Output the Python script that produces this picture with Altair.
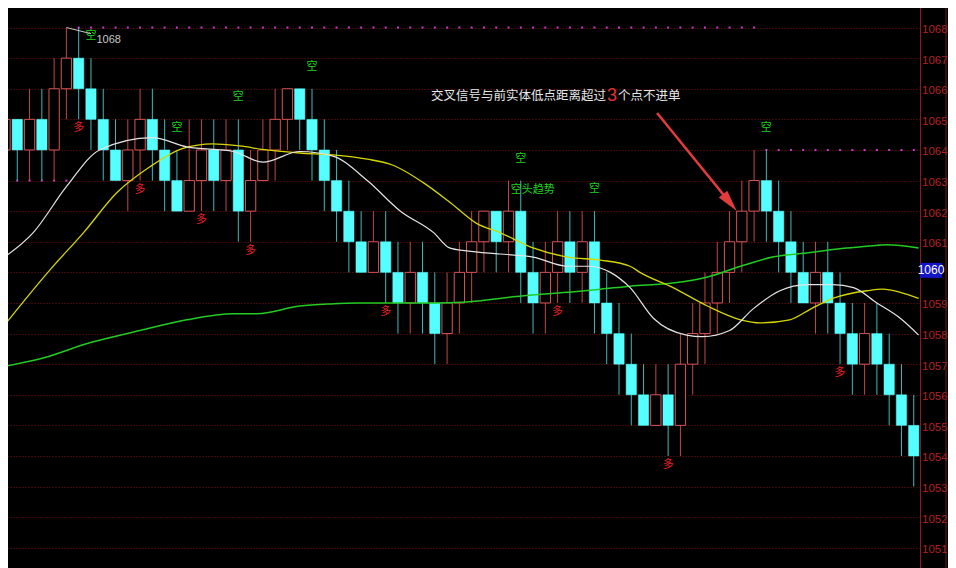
import altair as alt
import pandas as pd

# ---------------- data ----------------
opens  = [1064,1065,1064,1065,1064,1066,1067,1066,1065,1064,1063,1064,1065,1064,1063,1062,1063,1064,1063,1064,
          1062,1063,1064,1065,1066,1065,1064,1063,1062,1061,1060,1061,1060,1059,1060,1059,1058,1059,1060,1061,
          1062,1061,1062,1060,1059,1060,1061,1060,1061,1059,1058,1057,1056,1055,1056,1055,1057,1058,1059,1060,
          1061,1062,1063,1062,1061,1060,1059,1060,1059,1058,1057,1058,1057,1056,1055]
closes = [1065,1064,1065,1064,1066,1067,1066,1065,1064,1063,1064,1065,1064,1063,1062,1063,1064,1063,1064,1062,
          1063,1064,1065,1066,1065,1064,1063,1062,1061,1060,1061,1060,1059,1060,1059,1058,1059,1060,1061,1062,
          1061,1062,1060,1059,1060,1061,1060,1061,1059,1058,1057,1056,1055,1056,1055,1057,1058,1059,1060,1061,
          1062,1063,1062,1061,1060,1059,1060,1059,1058,1057,1058,1057,1056,1055,1054]
highs  = [1065,1065,1066,1066,1067,1068,1068,1067,1066,1065,1065,1066,1066,1065,1064,1065,1065,1065,1065,1065,
          1064,1065,1066,1066,1066,1066,1065,1064,1063,1062,1062,1062,1061,1061,1061,1060,1060,1061,1062,1062,
          1062,1063,1063,1061,1061,1062,1062,1062,1062,1060,1059,1058,1057,1057,1057,1058,1059,1060,1061,1062,
          1063,1064,1064,1063,1062,1061,1061,1061,1060,1059,1059,1059,1058,1057,1056]
lows   = [1063,1063,1063,1063,1063,1065,1065,1064,1063,1063,1062,1063,1063,1062,1062,1062,1062,1062,1062,1061,
          1061,1063,1063,1064,1064,1063,1062,1061,1060,1060,1060,1059,1058,1058,1058,1057,1057,1058,1059,1060,
          1060,1060,1059,1058,1058,1059,1059,1059,1058,1057,1056,1055,1055,1055,1054,1054,1056,1057,1058,1059,
          1060,1061,1061,1060,1059,1059,1058,1058,1057,1056,1056,1056,1055,1054,1053]
stop_levels = [1063]*6 + [1068]*56 + [1064]*13

white_i = [-0.4, 2.3, 5.0, 7.7, 12.0, 14.8, 18.6, 21.0, 24.0, 26.7, 29.5, 32.2, 34.9, 36.2, 37.6, 40.3, 43.0,
           45.8, 47.6, 49.3, 50.9, 52.8, 55.5, 56.8, 59.0, 60.9, 63.1, 65.3, 67.4, 69.1, 71.0, 72.9, 74.4]
white_v = [1060.4, 1061.3, 1062.8, 1064.0, 1064.4, 1064.1, 1063.95, 1063.6, 1063.95, 1063.8, 1063.0, 1062.0,
           1061.3, 1060.8, 1060.7, 1060.6, 1060.5, 1060.2, 1060.2, 1060.0, 1059.5, 1058.5, 1057.95, 1057.9,
           1058.1, 1058.8, 1059.4, 1059.6, 1059.6, 1059.5, 1059.0, 1058.5, 1057.95]
yel_i = [-0.4, 3.7, 6.4, 9.1, 11.8, 14.5, 16.9, 19.1, 21.3, 24.0, 26.7, 29.5, 31.6, 34.0, 36.2, 38.4, 40.3,
         43.0, 45.8, 48.5, 50.9, 51.7, 54.4, 57.2, 59.9, 61.5, 63.9, 65.6, 67.4, 70.2, 71.5, 72.9, 74.4]
yel_v = [1058.1, 1060.1, 1061.3, 1062.6, 1063.45, 1064.05, 1064.2, 1064.13, 1064.0, 1063.9, 1063.84, 1063.7,
         1063.5, 1062.95, 1062.3, 1061.6, 1061.3, 1060.8, 1060.5, 1060.4, 1060.2, 1060.0, 1059.5, 1058.9,
         1058.45, 1058.35, 1058.45, 1058.8, 1059.15, 1059.4, 1059.45, 1059.35, 1059.15]
grn_i = [-0.4, 3.1, 6.9, 11.0, 14.8, 18.6, 20.5, 24.0, 26.5, 28.7, 34.9, 37.6, 41.4, 45.8, 48.5, 50.9, 54.4,
         57.2, 59.9, 62.5, 65.6, 67.4, 70.2, 71.8, 74.4]
grn_v = [1056.9, 1057.2, 1057.7, 1058.1, 1058.45, 1058.65, 1058.65, 1058.9, 1058.97, 1059.0, 1059.0, 1059.03,
         1059.2, 1059.35, 1059.45, 1059.55, 1059.65, 1059.85, 1060.2, 1060.5, 1060.65, 1060.75, 1060.85,
         1060.9, 1060.8]

duo_idx = [6, 11, 16, 20, 31, 45, 54, 68]      # 多 signals (below low)
kong_idx = [7, 14, 19, 25, 42, 48, 62]         # 空 signals (above high)
trend_idx = 42                                  # 空头趋势
note_text1 = "交叉信号与前实体低点距离超过"
note_num = "3"
note_text2 = "个点不进单"
note_pos = (48.94, 1065.76)
arrow_from = (53.1, 1065.21)
arrow_tip_idx = 60
last_price = 1060
y_ticks = list(range(1051, 1070))

# ---------------- frames ----------------
n = len(opens)
cd = pd.DataFrame({"i": list(range(n)), "open": opens, "close": closes, "high": highs, "low": lows})
cd["up"] = cd["close"] > cd["open"]
cd["x0"] = cd["i"] - 0.42
cd["x1"] = cd["i"] + 0.42
up = cd[cd["up"]]
dn = cd[~cd["up"]]

XS = alt.Scale(domain=[-0.407, 74.51], nice=False, zero=False)
YS = alt.Scale(domain=[1050.34, 1068.90], nice=False, zero=False)
narrow = "Liberation Sans Narrow, Arial Narrow, Liberation Sans, sans-serif"
yaxis = alt.Axis(orient="right", values=y_ticks, grid=True, gridColor="#7a1010", gridDash=[1, 2],
                 gridWidth=1, gridOpacity=1, domain=True, domainColor="#8c1c1c", domainWidth=1,
                 ticks=False, labelColor="#b42020", labelFont=narrow,
                 labelFontSize=11.5, labelPadding=1.5, labelOffset=2, labelFlush=False, labelOverlap=False,
                 labelAlign="left", labelBaseline="middle", title=None, format="d",
                 labelExpr=f"datum.value == {last_price} ? '' : datum.label")


def X(f):
    return alt.X(f, type="quantitative", scale=XS, axis=None)


def Y(f):
    return alt.Y(f, type="quantitative", scale=YS, axis=yaxis)


layers = []

# stop-level dots
dots = pd.DataFrame({"i": list(range(n)), "lv": stop_levels})
layers.append(alt.Chart(dots).mark_square(size=4, color="#c83cc8", opacity=1).encode(x=X("i"), y=Y("lv")))

# wicks
layers.append(alt.Chart(up).mark_rule(color="#c04646", strokeWidth=1).encode(x=X("i"), y=Y("low"), y2="high"))
layers.append(alt.Chart(dn).mark_rule(color="#40b8b8", strokeWidth=1).encode(x=X("i"), y=Y("low"), y2="high"))

# bodies
layers.append(alt.Chart(up).mark_rect(fill="#000000", stroke="#d85454", strokeWidth=1).encode(
    x=X("x0"), x2="x1", y=Y("open"), y2="close"))
layers.append(alt.Chart(dn).mark_rect(fill="#55ffff", stroke="#55ffff", strokeWidth=0.5).encode(
    x=X("x0"), x2="x1", y=Y("open"), y2="close"))

# moving averages
for xi, yv, col, w in [(grn_i, grn_v, "#22cc22", 1.5), (yel_i, yel_v, "#d6d600", 1.3),
                       (white_i, white_v, "#e4e4e4", 1.2)]:
    df = pd.DataFrame({"i": xi, "v": yv})
    layers.append(alt.Chart(df).mark_line(color=col, strokeWidth=w, interpolate="monotone").encode(
        x=X("i"), y=Y("v")))

# signals
duo = cd[cd["i"].isin(duo_idx)]
kong = cd[cd["i"].isin(kong_idx)]
trend = cd[cd["i"] == trend_idx]
cjk = "Noto Sans CJK SC"
layers.append(alt.Chart(duo).mark_text(text="多", color="#e02020", font=cjk, fontSize=11, dy=9,
                                       baseline="middle").encode(x=X("i"), y=Y("low")))
layers.append(alt.Chart(kong).mark_text(text="空", color="#1ed21e", font=cjk, fontSize=11, dy=-22,
                                        baseline="middle").encode(x=X("i"), y=Y("high")))
layers.append(alt.Chart(trend).mark_text(text="空头趋势", color="#1ed21e", font=cjk, fontSize=11, dy=9,
                                         dx=12, baseline="middle").encode(x=X("i"), y=Y("high")))

# highest-high marker
hi_i = int(cd["high"].idxmax())
hi_v = float(cd["high"].max())
hi_df = pd.DataFrame({"i": [hi_i], "v": [hi_v], "i2": [hi_i + 2.0], "v2": [hi_v - 0.2],
                      "ti": [hi_i + 2.45], "tv": [hi_v - 0.42], "t": [str(int(hi_v))]})
layers.append(alt.Chart(hi_df).mark_rule(color="#c8c8c8", strokeWidth=1).encode(
    x=X("i"), y=Y("v"), x2="i2", y2="v2"))
layers.append(alt.Chart(hi_df).mark_text(color="#c8c8c8", fontSize=11, align="left", baseline="middle",
                                         font=narrow).encode(x=X("ti"), y=Y("tv"), text="t:N"))

# annotation text
nd = pd.DataFrame({"i": [note_pos[0]], "v": [note_pos[1]]})
layers.append(alt.Chart(nd).mark_text(text=note_text1, color="#e8e8e8", font=cjk, fontSize=12.5,
                                      align="right", baseline="middle").encode(x=X("i"), y=Y("v")))
layers.append(alt.Chart(nd).mark_text(text=note_num, color="#e03030", font="Liberation Sans", fontSize=18,
                                      align="left", baseline="middle", dx=1).encode(x=X("i"), y=Y("v")))
layers.append(alt.Chart(nd).mark_text(text=note_text2, color="#e8e8e8", font=cjk, fontSize=12.5,
                                      align="left", baseline="middle", dx=12).encode(x=X("i"), y=Y("v")))

# arrow
tip_top = float(max(cd.loc[arrow_tip_idx, "open"], cd.loc[arrow_tip_idx, "close"]))
tip_i = arrow_tip_idx - 0.42
ar = pd.DataFrame({"i": [arrow_from[0]], "v": [arrow_from[1]], "i2": [tip_i - 0.55], "v2": [tip_top + 0.28]})
layers.append(alt.Chart(ar).mark_rule(color="#e03c3c", strokeWidth=2.5).encode(
    x=X("i"), y=Y("v"), x2="i2", y2="v2"))
layers.append(alt.Chart(ar).mark_point(shape="M0,-1L0.5,1L-0.5,1Z", size=480, filled=True, color="#e03c3c",
                                       opacity=1, angle=141).encode(x=X("i2"), y=Y("v2")))

# last price tag
tag = pd.DataFrame({"v": [last_price], "top": [last_price + 0.31], "bot": [last_price - 0.18],
                    "t": [str(last_price)]})
layers.append(alt.Chart(tag).mark_rect(color="#1414c8").encode(
    x=alt.value(920), x2=alt.value(942), y=Y("top"), y2="bot"))
layers.append(alt.Chart(tag).mark_text(color="#ffffff", fontSize=12, baseline="middle", align="center", dy=-2,
                                       font=narrow).encode(x=alt.value(931), y=Y("v"), text="t:N"))

# right separator
layers.append(alt.Chart(tag).mark_rule(color="#6a2020", strokeWidth=1).encode(
    x=alt.value(946), y=alt.value(0), y2=alt.value(568)))

chart = alt.layer(*layers).properties(
    width=920, height=568,
    autosize=alt.AutoSizeParams(type="none"),
    padding={"left": -8, "top": -8, "right": 28, "bottom": 0},
    background="#000000",
).configure_view(stroke=None)

chart.save("out.html", embed_options={"renderer": "svg", "actions": False})
